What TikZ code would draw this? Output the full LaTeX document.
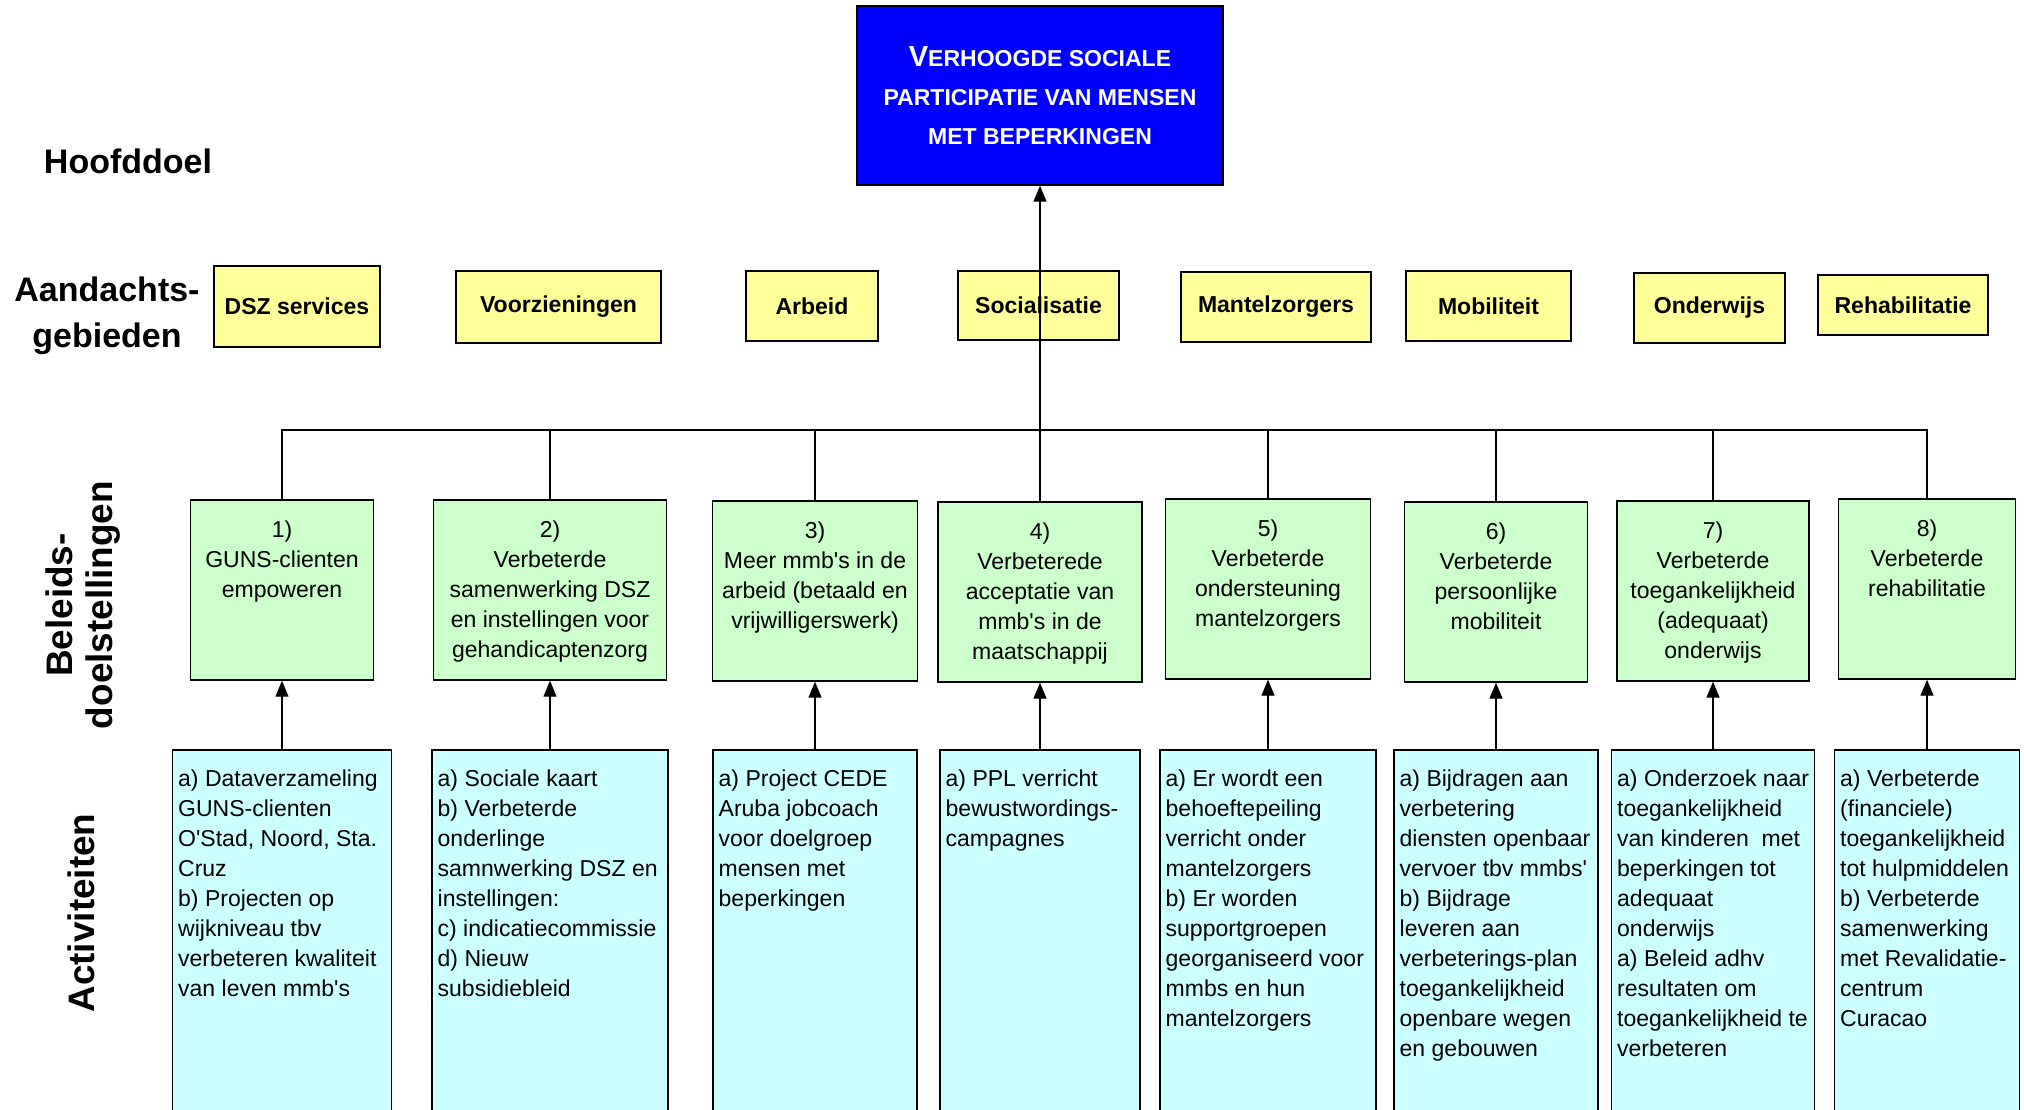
\documentclass[tikz,border=0pt]{standalone}
\usepackage{fontspec}
\setmainfont{Liberation Sans}
\usetikzlibrary{arrows.meta}

\definecolor{doelblue}{RGB}{0,0,255}
\definecolor{gebiedyellow}{RGB}{255,255,153}
\definecolor{beleidgreen}{RGB}{204,255,204}
\definecolor{activcyan}{RGB}{204,255,255}
\newcommand{\apo}{\textquotesingle}

\begin{document}
\begin{tikzpicture}[
    x=0.02cm, y=-0.02cm,
    hoofd/.style={draw, line width=0.8pt, fill=doelblue, text=white, align=center, minimum width=7.32cm, minimum height=3.58cm, font=\bfseries\fontsize{13.1}{22.2}\selectfont},
    gebied/.style={draw, line width=0.8pt, fill=gebiedyellow, minimum height=1.4cm, font=\bfseries\fontsize{13.1}{17}\selectfont},
    beleid/.style={draw, line width=0.8pt, fill=beleidgreen, minimum height=3.6cm},
    beleidtext/.style={anchor=north, align=center, inner sep=0pt, font=\fontsize{13.1}{17.1}\selectfont},
    activ/.style={draw, line width=0.8pt, fill=activcyan, minimum height=7.8cm},
    activtext/.style={anchor=north west, align=left, inner sep=0pt, font=\fontsize{13.1}{17.1}\selectfont},
    side/.style={align=center, font=\bfseries\fontsize{19.35}{26.2}\selectfont},
    sideup/.style={align=center, rotate=90, font=\bfseries\fontsize{21}{22.8}\selectfont},
    line/.style={draw, line width=0.7pt},
    arrow/.style={line, -{Triangle[length=0.32cm, width=0.26cm]}}
]
\useasboundingbox (0, 0) rectangle (2024, 1109);
\clip (0, 0) rectangle (2024, 1109);

\node[side] (hoofdlabel) at (128, 161) {Hoofddoel};
\node[side] (gebiedlabel) at (107, 316) {Aandachts-\\gebieden};
\node[sideup] (beleidlabel) at (83, 605) {Beleids-\\doelstellingen};
\node[sideup] (activlabel) at (81, 913) {Activiteiten};

\node[hoofd] (hoofd) at (1040, 95.5) {{\fontsize{16.5}{22.2}\selectfont V}ERHOOGDE SOCIALE\\PARTICIPATIE VAN MENSEN\\MET BEPERKINGEN};

\node[gebied, minimum width=3.32cm, minimum height=1.62cm] (dsz) at (297, 306.5) {DSZ services};
\node[gebied, minimum width=4.10cm, minimum height=1.44cm] (voorz) at (558.5, 307) {Voorzieningen};
\node[gebied, minimum width=2.64cm] (arbeid) at (812, 306) {Arbeid};
\node[gebied, minimum width=3.22cm, minimum height=1.38cm] (social) at (1038.5, 305.5) {Socialisatie};
\node[gebied, minimum width=3.80cm] (mantel) at (1276, 307) {Mantelzorgers};
\node[gebied, minimum width=3.30cm] (mobiel) at (1488.5, 306) {Mobiliteit};
\node[gebied, minimum width=3.02cm] (onderw) at (1709.5, 308) {Onderwijs};
\node[gebied, minimum width=3.40cm, minimum height=1.2cm] (rehab) at (1903, 305) {Rehabilitatie};

\node[beleid, minimum width=3.66cm] (g1) at (282, 590) {};
\node[beleid, minimum width=4.66cm] (g2) at (550, 590) {};
\node[beleid, minimum width=4.10cm] (g3) at (815, 591) {};
\node[beleid, minimum width=4.08cm] (g4) at (1040, 592) {};
\node[beleid, minimum width=4.10cm] (g5) at (1268, 589) {};
\node[beleid, minimum width=3.66cm] (g6) at (1496, 592) {};
\node[beleid, minimum width=3.84cm] (g7) at (1713, 591) {};
\node[beleid, minimum width=3.54cm] (g8) at (1927, 589) {};

\node[beleidtext] (g1t) at ([yshift=-0.42cm]g1.north) {1)\\GUNS-clienten\\empoweren};
\node[beleidtext] (g2t) at ([yshift=-0.42cm]g2.north) {2)\\Verbeterde\\samenwerking DSZ\\en instellingen voor\\gehandicaptenzorg};
\node[beleidtext] (g3t) at ([yshift=-0.42cm]g3.north) {3)\\Meer mmb\apo s in de\\arbeid (betaald en\\vrijwilligerswerk)};
\node[beleidtext] (g4t) at ([yshift=-0.42cm]g4.north) {4)\\Verbeterede\\acceptatie van\\mmb\apo s in de\\maatschappij};
\node[beleidtext] (g5t) at ([yshift=-0.42cm]g5.north) {5)\\Verbeterde\\ondersteuning\\mantelzorgers};
\node[beleidtext] (g6t) at ([yshift=-0.42cm]g6.north) {6)\\Verbeterde\\persoonlijke\\mobiliteit};
\node[beleidtext] (g7t) at ([yshift=-0.42cm]g7.north) {7)\\Verbeterde\\toegankelijkheid\\(adequaat)\\onderwijs};
\node[beleidtext] (g8t) at ([yshift=-0.42cm]g8.north) {8)\\Verbeterde\\rehabilitatie};

\node[activ, minimum width=4.38cm] (a1) at (282, 945) {};
\node[activ, minimum width=4.72cm] (a2) at (550, 945) {};
\node[activ, minimum width=4.08cm] (a3) at (815, 945) {};
\node[activ, minimum width=4.00cm] (a4) at (1040, 945) {};
\node[activ, minimum width=4.32cm] (a5) at (1268, 945) {};
\node[activ, minimum width=4.08cm] (a6) at (1496, 945) {};
\node[activ, minimum width=4.06cm] (a7) at (1713, 945) {};
\node[activ, minimum width=3.70cm] (a8) at (1927, 945) {};

\node[activtext] (a1t) at ([xshift=0.12cm, yshift=-0.4cm]a1.north west) {a) Dataverzameling\\GUNS-clienten\\O\apo Stad, Noord, Sta.\\Cruz\\b) Projecten op\\wijkniveau tbv\\verbeteren kwaliteit\\van leven mmb\apo s};
\node[activtext] (a2t) at ([xshift=0.12cm, yshift=-0.4cm]a2.north west) {a) Sociale kaart\\b) Verbeterde\\onderlinge\\samnwerking DSZ en\\instellingen:\\c) indicatiecommissie\\d) Nieuw\\subsidiebleid};
\node[activtext] (a3t) at ([xshift=0.12cm, yshift=-0.4cm]a3.north west) {a) Project CEDE\\Aruba jobcoach\\voor doelgroep\\mensen met\\beperkingen};
\node[activtext] (a4t) at ([xshift=0.12cm, yshift=-0.4cm]a4.north west) {a) PPL verricht\\bewustwordings-\\campagnes};
\node[activtext] (a5t) at ([xshift=0.12cm, yshift=-0.4cm]a5.north west) {a) Er wordt een\\behoeftepeiling\\verricht onder\\mantelzorgers\\b) Er worden\\supportgroepen\\georganiseerd voor\\mmbs en hun\\mantelzorgers};
\node[activtext] (a6t) at ([xshift=0.12cm, yshift=-0.4cm]a6.north west) {a) Bijdragen aan\\verbetering\\diensten openbaar\\vervoer tbv mmbs\apo\\b) Bijdrage\\leveren aan\\verbeterings-plan\\toegankelijkheid\\openbare wegen\\en gebouwen};
\node[activtext] (a7t) at ([xshift=0.12cm, yshift=-0.4cm]a7.north west) {a) Onderzoek naar\\toegankelijkheid\\van kinderen \ met\\beperkingen tot\\adequaat\\onderwijs\\a) Beleid adhv\\resultaten om\\toegankelijkheid te\\verbeteren};
\node[activtext] (a8t) at ([xshift=0.12cm, yshift=-0.4cm]a8.north west) {a) Verbeterde\\(financiele)\\toegankelijkheid\\tot hulpmiddelen\\b) Verbeterde\\samenwerking\\met Revalidatie-\\centrum\\Curacao};

\coordinate (hub) at (1040, 430);
\draw[arrow] (hub) -- (hoofd.south);
\draw[line] (hub) -| (g1.north);
\draw[line] (hub) -| (g2.north);
\draw[line] (hub) -| (g3.north);
\draw[line] (hub) -- (g4.north);
\draw[line] (hub) -| (g5.north);
\draw[line] (hub) -| (g6.north);
\draw[line] (hub) -| (g7.north);
\draw[line] (hub) -| (g8.north);

\draw[arrow] (a1.north) -- (g1.south);
\draw[arrow] (a2.north) -- (g2.south);
\draw[arrow] (a3.north) -- (g3.south);
\draw[arrow] (a4.north) -- (g4.south);
\draw[arrow] (a5.north) -- (g5.south);
\draw[arrow] (a6.north) -- (g6.south);
\draw[arrow] (a7.north) -- (g7.south);
\draw[arrow] (a8.north) -- (g8.south);

\end{tikzpicture}
\end{document}
